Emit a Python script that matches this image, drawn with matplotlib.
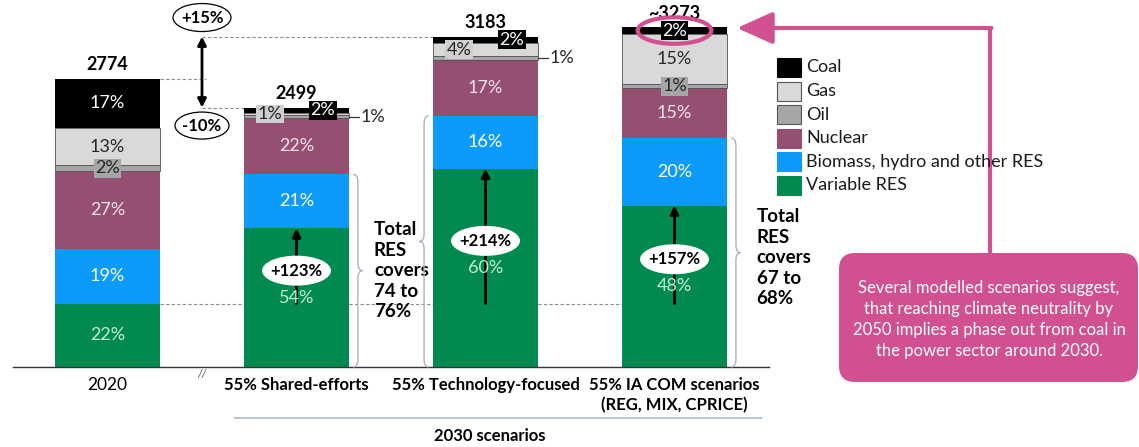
import numpy as np
import matplotlib
matplotlib.use("Agg")
import matplotlib.pyplot as plt
from matplotlib.patches import Ellipse, FancyBboxPatch, PathPatch, Rectangle
from matplotlib.path import Path

plt.rcParams['font.family'] = ['Lato', 'DejaVu Sans']

# Power generation mix (TWh) in 2020 and the 2030 scenarios
categories = ["2020", "55% Shared-efforts", "55% Technology-focused",
              "55% IA COM scenarios\n(REG, MIX, CPRICE)"]
totals = [2774, 2499, 3183, 3273]
total_labels = ["2774", "2499", "3183", "~3273"]

sources = ["Variable RES", "Biomass, hydro and other RES", "Nuclear", "Oil", "Gas", "Coal"]
variable_res = [22, 54, 60, 48]
biomass_hydro = [19, 21, 16, 20]
nuclear = [27, 22, 17, 15]
oil = [2, 1, 1, 1]
gas = [13, 1, 4, 15]
coal = [17, 2, 2, 2]

growth_labels = ["", "+123%", "+214%", "+157%"]
res_notes = {1: "Total\nRES\ncovers\n74 to\n76%", 3: "Total\nRES\ncovers\n67 to\n68%"}
callout = ("Several modelled scenarios suggest,\nthat reaching climate neutrality by\n"
           "2050 implies a phase out from coal in\nthe power sector around 2030.")

colors = {"Variable RES": "#008a50", "Biomass, hydro and other RES": "#0c9bfa",
          "Nuclear": "#954f72", "Oil": "#a6a6a6", "Gas": "#d9d9d9", "Coal": "#000000"}
text_colors = {"Variable RES": "#c4eed2", "Biomass, hydro and other RES": "white",
               "Nuclear": "#f6e2ec", "Oil": "#262626", "Gas": "#262626", "Coal": "white"}
pink = "#d1508f"
brace_col = "#aab2c4"
fs = 13

W, H = 1139, 447
fig = plt.figure(figsize=(W / 100, H / 100), dpi=100)

# data axes: bar centres 189 px apart, baseline at y=367 px
k = 288 / 2774          # px per TWh
px = 1 / k              # TWh per px, for small vertical offsets
ax = fig.add_axes([0, 0, 1, 1])
ax.set_xlim(-107.5 / 189, (W - 107.5) / 189)
ax.set_ylim(-(H - 367) / k, 367 / k)
ax.axis("off")

# overlay in pixel units for free annotations
ov = fig.add_axes([0, 0, 1, 1], zorder=5)
ov.set_xlim(0, W)
ov.set_ylim(H, 0)
ov.axis("off")
ov.patch.set_alpha(0)

x = np.arange(len(categories))
bw = 0.56
shares = np.array([variable_res, biomass_hydro, nuclear, oil, gas, coal], dtype=float)
heights = shares / shares.sum(axis=0) * np.array(totals)
bottoms = np.vstack([np.zeros(len(x)), np.cumsum(heights, axis=0)[:-1]])

for j, src in enumerate(sources):
    edge = "#505050" if src in ("Oil", "Gas") else "none"
    ax.bar(x, heights[j], bw, bottom=bottoms[j], color=colors[src],
           edgecolor=edge, linewidth=0.6, zorder=3)

# where the thin segments get labelled: (x offset, style)
small = {(0, "Oil"): (0.0, "box"),
         (1, "Gas"): (-0.14, "box"), (1, "Coal"): (0.14, "box"), (1, "Oil"): (0, "side"),
         (2, "Gas"): (-0.14, "box"), (2, "Coal"): (0.14, "box"), (2, "Oil"): (0, "side"),
         (3, "Oil"): (0.0, "box"), (3, "Coal"): (0.0, "box")}

for j, src in enumerate(sources):
    for i in x:
        yc = bottoms[j, i] + heights[j, i] / 2
        lab = f"{int(shares[j, i])}%"
        if (i, src) in small:
            dx, style = small[(i, src)]
            if style == "box":
                ax.text(i + dx, yc, lab, ha="center", va="center", fontsize=fs,
                        color=text_colors[src], zorder=6,
                        bbox=dict(boxstyle="square,pad=0.08", fc=colors[src] if src != "Gas" else "#cfcfcf",
                                  ec="none"))
            else:
                ax.plot([i + bw / 2, i + bw / 2 + 0.05], [yc, yc], color="#333", lw=0.9, zorder=6)
                ax.text(i + bw / 2 + 0.06, yc, lab, ha="left", va="center", fontsize=fs,
                        color="#262626", zorder=6)
        else:
            ax.text(i, yc, lab, ha="center", va="center", fontsize=fs,
                    color=text_colors[src], zorder=6)

for i in x:
    ax.annotate(total_labels[i], (i, totals[i]), xytext=(0, 4), textcoords="offset points",
                ha="center", va="bottom", fontsize=fs, fontweight="bold", zorder=4)

# baseline, axis break and category labels
ax.plot([-0.5, 3.5], [0, 0], color="#333", lw=1, zorder=4)
ax.text(0.5, -5, "//", ha="center", va="top", fontsize=8, color="#555", style="italic")
for i in x:
    ax.annotate(categories[i], (i, 0), xytext=(0, -7), textcoords="offset points",
                ha="center", va="top", fontsize=12.5 if i == 0 else 12, linespacing=1.3,
                fontweight="normal" if i == 0 else "bold")

# reference levels from 2020
dash = dict(color="#8c8c8c", lw=0.8, ls=(0, (3, 2)))
ax.plot([bw / 2, 0.52], [totals[0]] * 2, zorder=2, **dash)
ax.plot([0.5, 1 - bw / 2], [totals[1]] * 2, zorder=2, **dash)
ax.plot([0.5, 2 - bw / 2], [totals[2]] * 2, zorder=2, **dash)
res0 = heights[0, 0]
ax.plot([bw / 2, 3.0], [res0, res0], zorder=2, **dash)


def oval_label(xc, yc, text, w, h, edge):
    ax.add_patch(Ellipse((xc, yc), w / 189, h * px, fc="white",
                         ec=edge, lw=0.9, zorder=6))
    ax.text(xc, yc, text, ha="center", va="center", fontsize=12,
            fontweight="bold", zorder=7)


ax.annotate("", xy=(0.5, totals[2]), xytext=(0.5, totals[1]),
            arrowprops=dict(arrowstyle="<|-|>,head_length=0.5,head_width=0.25", color="black",
                            lw=2, shrinkA=0, shrinkB=0), zorder=4)
up = round((totals[2] / totals[0] - 1) * 100)
down = round((totals[1] / totals[0] - 1) * 100)
oval_label(0.5, totals[2] + 19 * px, f"+{up}%", 58, 28, "black")
oval_label(0.5, totals[1] - 18 * px, f"{down}%", 54, 27, "black")

# growth of variable RES vs 2020
for i in x[1:]:
    top = heights[0, i]
    ax.annotate("", xy=(i, top), xytext=(i, res0),
                arrowprops=dict(arrowstyle="-|>,head_length=0.5,head_width=0.25", color="black",
                                lw=2, shrinkA=0, shrinkB=0), zorder=4)
    oval_label(i, top / 2 + 27 * px, growth_labels[i], 69, 30, "none")


def brace(x0, y0, y1, w, q):
    xm, xt, ym = x0 + w / 2, x0 + w, (y0 + y1) / 2
    verts = [(x0, y0), (xm, y0), (xm, y0 + q), (xm, ym - q), (xm, ym), (xt, ym),
             (xm, ym), (xm, ym + q), (xm, y1 - q), (xm, y1), (x0, y1)]
    codes = [Path.MOVETO, Path.CURVE3, Path.CURVE3, Path.LINETO, Path.CURVE3, Path.CURVE3,
             Path.CURVE3, Path.CURVE3, Path.LINETO, Path.CURVE3, Path.CURVE3]
    ax.add_patch(PathPatch(Path(verts, codes), fc="none", ec=brace_col, lw=1, zorder=4))
    return ym


res_top = heights[0] + heights[1]
ym1 = brace(1 + bw / 2 + 0.02, 0, res_top[1], 0.05, 75)
brace(2 - bw / 2 - 0.02, 0, res_top[2], -0.05, 75)
ym3 = brace(3 + bw / 2 + 0.02, 0, res_top[3], 0.05, 75)
ax.text(1.41, ym1, res_notes[1], ha="left", va="center", fontsize=13.5,
        fontweight="bold", linespacing=1.25)
ax.text(3.435, ym3 - 5 * px, res_notes[3], ha="left", va="center", fontsize=13.5,
        fontweight="bold", linespacing=1.25)

# coal highlight in the IA COM bar
ax.add_patch(Ellipse((3, bottoms[5, 3] + heights[5, 3] / 2), 0.39, 255, fc="none",
                     ec=pink, lw=3, zorder=8))

# legend
for j, src in enumerate(sources[::-1]):
    yy = 58 + 23.5 * j
    ov.add_patch(Rectangle((777, yy), 24, 19, fc=colors[src],
                           ec="#555" if src in ("Oil", "Gas") else colors[src], lw=0.8))
    ov.text(806, yy + 9.5, src, ha="left", va="center", fontsize=fs, color="#1a1a1a")

# callout
ov.plot([990, 990], [28, 254], color=pink, lw=3, solid_capstyle="butt")
ov.annotate("", xy=(737, 28), xytext=(991.5, 28),
            arrowprops=dict(arrowstyle="-|>,head_length=1.0,head_width=0.45", color=pink,
                            lw=3, shrinkA=0, shrinkB=0, mutation_scale=22))
ov.add_patch(FancyBboxPatch((839, 253), 299, 129, boxstyle="round,pad=0,rounding_size=16",
                            fc=pink, ec="none"))
ov.text(989, 319.5, callout, ha="center", va="center", fontsize=12, color="white",
        linespacing=1.36)

# 2030 scenarios bracket
ov.plot([235, 761], [418, 418], color="#b9c4d3", lw=1.5)
ov.text(490, 436, "2030 scenarios", ha="center", va="center", fontsize=12, fontweight="bold")

fig.savefig("out.png", dpi=100)
